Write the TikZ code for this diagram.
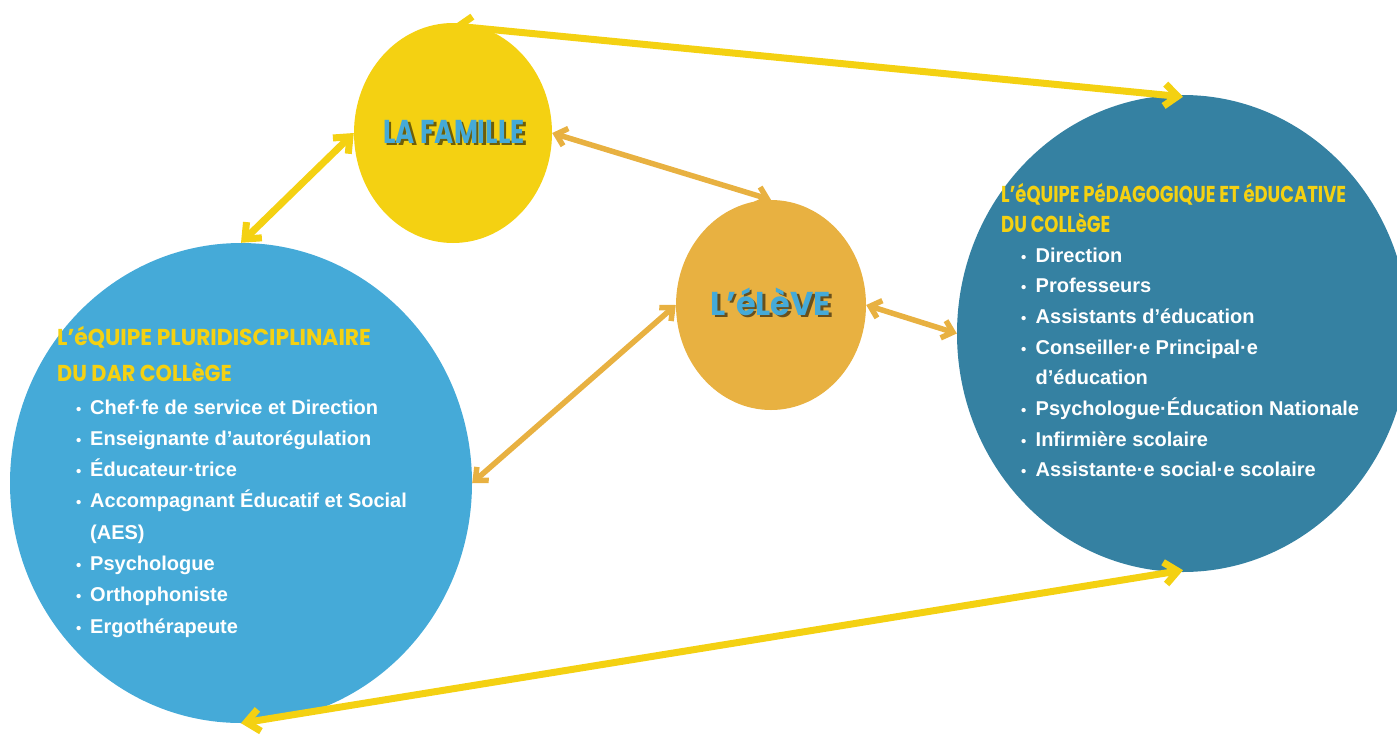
\documentclass[tikz,border=0pt]{standalone}
\usepackage{fontspec}
\setmainfont{Liberation Sans}
\newfontfamily\headfont[FakeStretch=0.79]{Poppins}
\newfontfamily\elefont[FakeStretch=0.965]{Poppins}
\usetikzlibrary{shapes.geometric,arrows.meta}
\definecolor{cyel}{HTML}{F4D112}
\definecolor{corange}{HTML}{E8B141}
\definecolor{cblue}{HTML}{45AAD8}
\definecolor{cteal}{HTML}{3581A2}
\newcommand\shadowtext[2]{\makebox[0pt][l]{\hspace{2.5pt}\raisebox{-2.5pt}{\textcolor{#1}{#2}}}#2}
\begin{document}
\begin{tikzpicture}[x=1pt,y=-1pt,
  blob/.style={ellipse, inner sep=0pt, draw=none},
  yarrow/.style={draw=cyel, line width=7pt, line cap=round,
    {Straight Barb[length=13pt,width=22pt]}-{Straight Barb[length=13pt,width=22pt]}},
  oarrow/.style={draw=corange, line width=5.5pt, line cap=round,
    {Straight Barb[length=10pt,width=18pt]}-{Straight Barb[length=10pt,width=18pt]}},
  bigname/.style={inner sep=0pt, text=cblue, font=\headfont\bfseries\fontsize{33}{33}\selectfont},
  teamtitle/.style={anchor=base west, inner sep=0pt, text=cyel, font=\headfont\bfseries\fontsize{23}{23}\selectfont},
  teamlist/.style={anchor=base west, inner sep=0pt, text=white, font=\bfseries\fontsize{20}{31.3}\selectfont}
]
\useasboundingbox (0,0) rectangle (1397,734);
\clip (0,0) rectangle (1397,734);

% circles
\node[blob, fill=cyel, minimum width=198pt, minimum height=220pt] (fam) at (453,133) {};
\node[blob, fill=corange, minimum width=190pt, minimum height=210pt] (ele) at (771,305) {};
\node[blob, fill=cblue, minimum width=462pt, minimum height=480pt] (dar) at (241,483) {};
\node[blob, fill=cteal, minimum width=452pt, minimum height=477pt] (col) at (1183,333.5) {};

% names
\node[bigname] (famtxt) at (454,133) {\shadowtext{cyel!45!black}{LA FAMILLE}};
\node[bigname, font=\elefont\bfseries\fontsize{33}{33}\selectfont] (eletxt) at (771,303) {\shadowtext{corange!45!black}{L’éLèVE}};

% left team
\node[teamtitle] (dart1) at (57,345) {\scalebox{1.2}[1]{L’éQUIPE PLURIDISCIPLINAIRE}};
\node[teamtitle] (dart2) at (57,381) {\scalebox{1.145}[1]{DU DAR COLLèGE}};
\node[teamlist] (darlist) at (76,414) {\begin{tabular}[t]{@{}l@{}l@{}}
\makebox[14pt][l]{\fontsize{15}{15}\selectfont •} & Chef·fe de service et Direction\\
\makebox[14pt][l]{\fontsize{15}{15}\selectfont •} & Enseignante d’autorégulation\\
\makebox[14pt][l]{\fontsize{15}{15}\selectfont •} & Éducateur·trice\\
\makebox[14pt][l]{\fontsize{15}{15}\selectfont •} & Accompagnant Éducatif et Social\\
 & (AES)\\
\makebox[14pt][l]{\fontsize{15}{15}\selectfont •} & Psychologue\\
\makebox[14pt][l]{\fontsize{15}{15}\selectfont •} & Orthophoniste\\
\makebox[14pt][l]{\fontsize{15}{15}\selectfont •} & Ergothérapeute
\end{tabular}};

% right team
\node[teamtitle] (colt1) at (1001,202) {\scalebox{0.99}[1]{L’éQUIPE PéDAGOGIQUE ET éDUCATIVE}};
\node[teamtitle] (colt2) at (1001,232) {\scalebox{0.99}[1]{DU COLLèGE}};
\node[teamlist, font=\bfseries\fontsize{20}{30.7}\selectfont] (collist) at (1021,262) {\begin{tabular}[t]{@{}l@{}l@{}}
\makebox[14.5pt][l]{\fontsize{15}{15}\selectfont •} & Direction\\
\makebox[14.5pt][l]{\fontsize{15}{15}\selectfont •} & Professeurs\\
\makebox[14.5pt][l]{\fontsize{15}{15}\selectfont •} & Assistants d’éducation\\
\makebox[14.5pt][l]{\fontsize{15}{15}\selectfont •} & Conseiller·e Principal·e\\
 & d’éducation\\
\makebox[14.5pt][l]{\fontsize{15}{15}\selectfont •} & Psychologue·Éducation Nationale\\
\makebox[14.5pt][l]{\fontsize{15}{15}\selectfont •} & Infirmière scolaire\\
\makebox[14.5pt][l]{\fontsize{15}{15}\selectfont •} & Assistante·e social·e scolaire
\end{tabular}};

% connectors
\draw[yarrow] ([yshift=-3pt]fam.north) -- ([yshift=-2pt]col.north);
\draw[yarrow] (fam.west) -- (dar.north);
\draw[yarrow] (dar.south) -- ([yshift=2pt]col.south);
\draw[oarrow] (fam.east) -- (ele.north);
\draw[oarrow] (ele.west) -- (dar.east);
\draw[oarrow] (ele.east) -- (col.west);
\end{tikzpicture}
\end{document}
